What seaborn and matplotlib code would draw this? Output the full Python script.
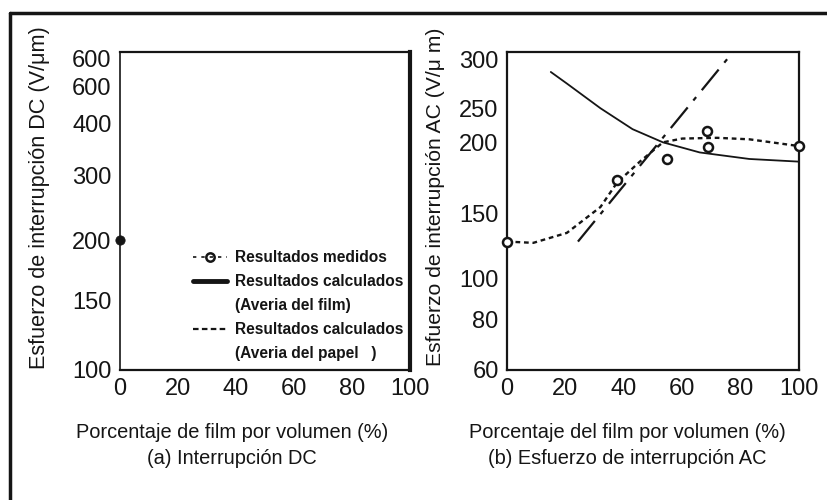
import numpy as np
import pandas as pd
import matplotlib
matplotlib.use("Agg")
import matplotlib.pyplot as plt
from matplotlib.lines import Line2D
import seaborn as sns

# ---------------- data ----------------
# (a) DC panel
dc_meas_x = [0]
dc_meas_y = [200]
dc_yticks = [100, 150, 200, 300, 400, 500]
dc_yticklabels = ["100", "150", "200", "300", "400", "600"]
dc_top_label = 600

# (b) AC panel
ac_meas_x = [0, 37.7, 54.8, 68.5, 68.8, 100]
ac_meas_y = [126, 172, 187, 216, 196, 197]
film_x = [15, 20.5, 32, 43, 53.4, 66, 83, 100]
film_y = [286, 274, 250, 218, 200, 192, 187, 185]
paper_x = [0, 9, 20.5, 32, 37.7, 45.5, 53.4, 60, 72, 83, 100]
paper_y = [126, 125, 133, 154, 170, 185, 200, 205, 206, 204, 197]
trend_x = [24.3, 77.4]
trend_y = [126, 308]
ac_yticks = [60, 80, 100, 150, 200, 250, 300]
xticks = [0, 20, 40, 60, 80, 100]

# axis calibration of the hand-drawn (quasi-log) scales: value -> height
dc_knot_vals = [100, 150, 200, 300, 400, 500, 600]
dc_knot_pos = [0, 70, 130, 195, 247, 284, 312]
ac_knot_vals = [60, 80, 100, 150, 200, 250, 300]
ac_knot_pos = [0, 50, 91, 156, 227, 261, 310]


def make_scale(vals, pos):
    lv = np.log10(np.asarray(vals, float))
    p = np.asarray(pos, float)
    s0 = (p[1] - p[0]) / (lv[1] - lv[0])
    s1 = (p[-1] - p[-2]) / (lv[-1] - lv[-2])

    def fwd(v):
        x = np.log10(np.clip(np.asarray(v, float), 1e-6, None))
        y = np.interp(x, lv, p)
        y = np.where(x < lv[0], p[0] + (x - lv[0]) * s0, y)
        y = np.where(x > lv[-1], p[-1] + (x - lv[-1]) * s1, y)
        return y

    def inv(y):
        y = np.asarray(y, float)
        x = np.interp(y, p, lv)
        x = np.where(y < p[0], lv[0] + (y - p[0]) / s0, x)
        x = np.where(y > p[-1], lv[-1] + (y - p[-1]) / s1, x)
        return 10 ** x

    return fwd, inv


sns.set_theme(style="white")
plt.rcParams["font.family"] = ["Liberation Sans", "DejaVu Sans"]
ink = "#151515"

fig = plt.figure(figsize=(8.28, 5.0), dpi=100)
W, H = 828, 500


def axes_px(x0, x1, ytop, ybot):
    return fig.add_axes([x0 / W, 1 - ybot / H, (x1 - x0) / W, (ybot - ytop) / H])


axL = axes_px(120, 410, 52, 370)
axR = axes_px(507, 799, 52, 370)
TICK_FS = 17

# ---------------- panel (a) ----------------
axL.set_yscale("function", functions=make_scale(dc_knot_vals, dc_knot_pos))
axL.set_ylim(100, 624)
axL.set_xlim(0, 100)
sns.scatterplot(x=dc_meas_x, y=dc_meas_y, ax=axL, color=ink, s=45,
                edgecolor=ink, zorder=5, clip_on=False, legend=False)
axL.set_yticks(dc_yticks, labels=dc_yticklabels)
axL.set_yticks([dc_top_label], labels=[str(dc_top_label)], minor=True)
axL.set_xticks(xticks, labels=[str(v) for v in xticks])
axL.set_xticks([20], minor=True)
axL.tick_params(axis="y", which="major", direction="in", length=7, width=1.3,
                labelsize=TICK_FS, pad=6, colors=ink)
axL.tick_params(axis="y", which="minor", length=0, labelsize=TICK_FS, pad=6,
                labelcolor=ink)
axL.tick_params(axis="x", which="major", length=0, labelsize=TICK_FS, pad=6,
                labelcolor=ink)
axL.tick_params(axis="x", which="minor", direction="in", length=6, width=2.5,
                colors=ink)

handles = [
    Line2D([], [], color=ink, ls=(0, (2, 3)), lw=1.2, marker="o", ms=6,
           mfc="none", mew=1.8),
    Line2D([], [], color=ink, ls="-", lw=3.5),
    Line2D([], [], color="none"),
    Line2D([], [], color=ink, ls=(0, (2.5, 1.5)), lw=1.6),
    Line2D([], [], color="none"),
]
labels = ["Resultados medidos", "Resultados calculados", "(Averia del film)",
          "Resultados calculados", "(Averia del papel   )"]
leg = axL.legend(handles, labels, loc="upper left",
                 bbox_to_anchor=((193 - 120) / 290, (370 - 250) / 318),
                 frameon=False, borderpad=0, borderaxespad=0,
                 handlelength=2.2, handletextpad=0.5, labelspacing=0.58,
                 prop={"size": 11.2, "weight": "bold"})
for t in leg.get_texts():
    t.set_color(ink)

# ---------------- panel (b) ----------------
axR.set_yscale("function", functions=make_scale(ac_knot_vals, ac_knot_pos))
axR.set_ylim(60, 308)
axR.set_xlim(0, 100)
sns.lineplot(x=film_x, y=film_y, ax=axR, color=ink, lw=1.3, sort=False)
sns.lineplot(x=paper_x, y=paper_y, ax=axR, color=ink, lw=1.7, sort=False,
             linestyle=(0, (2, 1.6)))
sns.lineplot(x=trend_x, y=trend_y, ax=axR, color=ink, lw=1.6, sort=False,
             linestyle=(0, (12, 4, 2, 4)))
sns.scatterplot(x=ac_meas_x, y=ac_meas_y, ax=axR, marker="o", s=42,
                facecolor="white", edgecolor=ink, linewidth=1.8, zorder=5,
                clip_on=False, legend=False)
axR.set_yticks(ac_yticks, labels=[str(v) for v in ac_yticks])
axR.set_yticks([290], minor=True)
axR.set_xticks(xticks, labels=[str(v) for v in xticks])
axR.tick_params(axis="y", which="both", direction="in", length=8, width=1.3,
                labelsize=TICK_FS, pad=6, colors=ink)
axR.tick_params(axis="x", direction="in", length=5, width=1.3,
                labelsize=TICK_FS, pad=6, colors=ink)

for ax in (axL, axR):
    ax.set_facecolor("white")
    for sp in ax.spines.values():
        sp.set_color(ink)
        sp.set_linewidth(1.6)
axL.spines["right"].set_linewidth(3)
axL.spines["left"].set_linewidth(1.2)

# ---------------- labels ----------------
fig.text(40 / W, 1 - 198 / H, "Esfuerzo de interrupción DC (V/μm)",
         rotation=90, ha="center", va="center", fontsize=15.6, color=ink)
fig.text(436 / W, 1 - 197 / H, "Esfuerzo de interrupción AC (V/μ m)",
         rotation=90, ha="center", va="center", fontsize=15.2, color=ink)
fig.text(232 / W, 1 - 432 / H, "Porcentaje de film por volumen (%)",
         ha="center", va="center", fontsize=14.4, color=ink)
fig.text(232 / W, 1 - 458 / H, "(a) Interrupción DC",
         ha="center", va="center", fontsize=14.4, color=ink)
fig.text(627 / W, 1 - 432 / H, "Porcentaje del film por volumen (%)",
         ha="center", va="center", fontsize=14.4, color=ink)
fig.text(627 / W, 1 - 458 / H, "(b) Esfuerzo de interrupción AC",
         ha="center", va="center", fontsize=14.4, color=ink)

# outer frame (top and left edges)
fig.add_artist(Line2D([10 / W, 1.0], [1 - 13 / H, 1 - 13 / H],
                      transform=fig.transFigure, color=ink, lw=2.5))
fig.add_artist(Line2D([10 / W, 10 / W], [0, 1 - 13 / H],
                      transform=fig.transFigure, color=ink, lw=2.5))

fig.savefig("out.png", dpi=100, facecolor="white")
